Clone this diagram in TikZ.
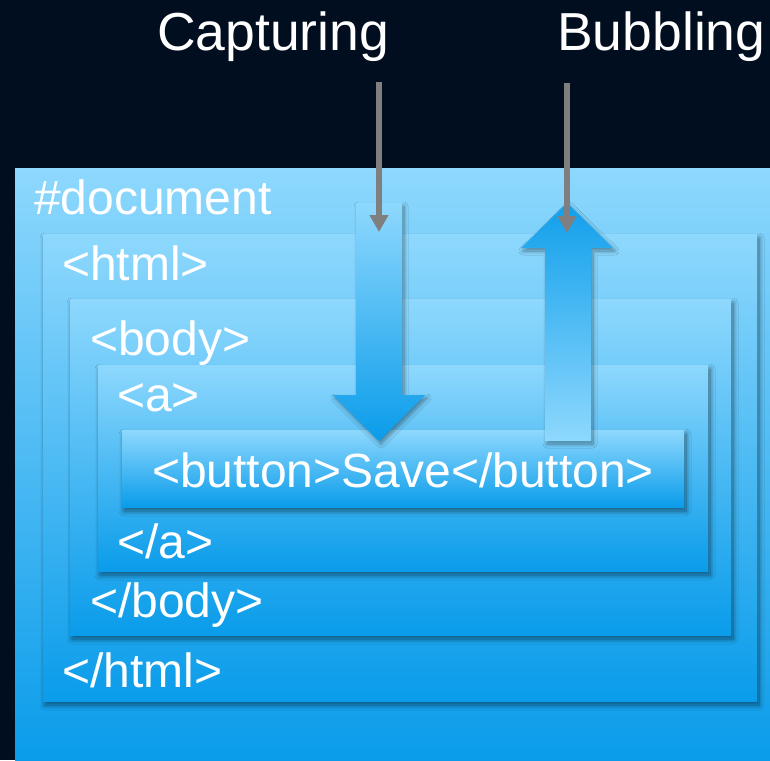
\documentclass[tikz,border=0pt]{standalone}
\usepackage{fontspec}
\setmainfont{Liberation Sans}
\usepackage{tikz}
\usetikzlibrary{calc, positioning, arrows.meta, shadows.blur}

\definecolor{nightbg}{RGB}{0,14,32}
\definecolor{skytop}{RGB}{142,216,253}
\definecolor{skybot}{RGB}{10,156,234}
\definecolor{pointer}{RGB}{127,127,127}

\tikzset{
    layer/.style={top color=skytop, bottom color=skybot, draw=none,
        blur shadow={shadow xshift=2pt, shadow yshift=-4pt, shadow blur radius=5pt,
            shadow blur steps=10, shadow opacity=50}},
    bigarrow/.style={draw=none,
        blur shadow={shadow xshift=2pt, shadow yshift=-3pt, shadow blur radius=4pt,
            shadow blur steps=8, shadow opacity=40}},
    tag/.style={text=white, inner sep=0pt, anchor=base west,
        font=\fontsize{48}{56}\selectfont},
    phase/.style={text=white, inner sep=0pt, anchor=base west,
        font=\fontsize{53.5}{62}\selectfont},
    pointerline/.style={draw=pointer, line width=6pt,
        -{Triangle[width=18pt, length=17pt]}}
}

\begin{document}
\begin{tikzpicture}[x=1pt, y=-1pt]
    % --- fond sombre ---
    \fill[nightbg] (0,0) rectangle (770,760);
    \useasboundingbox (0,0) rectangle (770,760);

    % Boites imbriquees (coin haut-gauche / coin bas-droit)
    \coordinate (doc1) at (15,168);   \coordinate (doc2) at (770,760);
    \coordinate (html1) at (43,234);  \coordinate (html2) at (757,701);
    \coordinate (body1) at (70,299);  \coordinate (body2) at (731,635);
    \coordinate (a1) at (98,365);     \coordinate (a2) at (708,571);
    \coordinate (btn1) at (122,430);  \coordinate (btn2) at (684,507);

    \path[top color=skytop, bottom color=skybot] (doc1) rectangle (doc2);
    \path[layer] (html1) rectangle (html2);
    \path[layer] (body1) rectangle (body2);
    \path[layer] (a1) rectangle (a2);
    \path[layer] (btn1) rectangle (btn2);

    % Etiquettes des balises
    \node[tag] (docopen) at (34,214) {\#document};
    \node[tag] (htmlopen) at (62,280) {<html>};
    \node[tag] (bodyopen) at (90,355) {<body>};
    \node[tag] (aopen) at (117,411) {<a>};
    \node[tag] (button) at (152,487) {<button>Save</button>};
    \node[tag] (aclose) at (117,558) {</a>};
    \node[tag] (bodyclose) at (90,617) {</body>};
    \node[tag] (htmlclose) at (62,687) {</html>};

    % --- grosse fleche descendante (capture) ---
    \path[bigarrow, top color=skytop, bottom color=skybot]
        (356,203) -- (402,203) -- (402,395) -- (425,395) -- (379,441)
        -- (333,395) -- (356,395) -- cycle;

    % --- grosse fleche montante (remontee) ---
    \path[bigarrow, top color=skybot!95!skytop, bottom color=skytop]
        (567,203) -- (613,248) -- (591,248) -- (591,441) -- (545,441)
        -- (545,248) -- (521,248) -- cycle;

    % Titres et fleches grises
    \node[phase] (capturing) at (157,50) {Capturing};
    \node[phase] (bubbling) at (557,50) {Bubbling};

    \coordinate (capstart) at (379,82);
    \coordinate (capend) at (379,232);
    \coordinate (bubstart) at (567,83);
    \coordinate (bubend) at (567,233);
    \draw[pointerline] (capstart) -- (capend);
    \draw[pointerline] (bubstart) -- (bubend);
\end{tikzpicture}
\end{document}
